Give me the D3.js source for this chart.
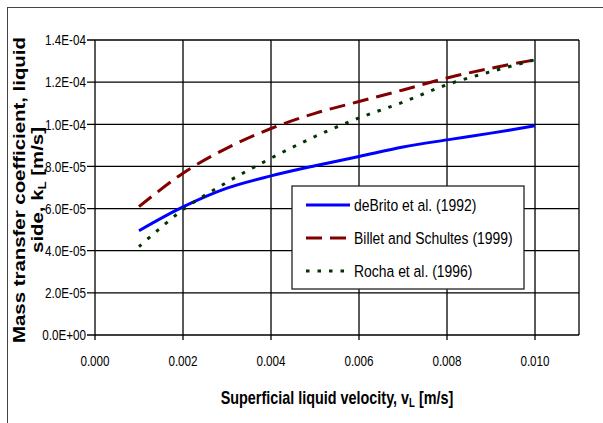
<!DOCTYPE html>
<html>
<head>
<meta charset="utf-8">
<script src="https://cdn.jsdelivr.net/npm/d3@7"></script>
<style>
  body { margin: 0; background: #fff; }
  svg text { fill: #000; font-family: "Liberation Sans", Arial, sans-serif; }
  .tick-label { font-size: 15px; }
  .legend-label { font-size: 17px; }
  .x-title { font-size: 18px; font-weight: bold; }
  .y-title { font-size: 17px; font-weight: bold; }
</style>
</head>
<body>
<div id="chart"></div>
<script>
// Valores
const velocities = [0.001, 0.002, 0.003, 0.004, 0.005, 0.006, 0.007, 0.008, 0.009, 0.010];
const deBrito = [4.95e-5, 6.08e-5, 6.97e-5, 7.55e-5, 8.03e-5, 8.47e-5, 8.92e-5, 9.26e-5, 9.58e-5, 9.93e-5];
const billet = [6.09e-5, 7.68e-5, 8.87e-5, 9.80e-5, 1.052e-4, 1.108e-4, 1.163e-4, 1.220e-4, 1.266e-4, 1.306e-4];
const rocha = [4.19e-5, 5.95e-5, 7.25e-5, 8.39e-5, 9.42e-5, 1.030e-4, 1.105e-4, 1.188e-4, 1.250e-4, 1.306e-4];
const seriesNames = ["deBrito et al. (1992)", "Billet and Schultes (1999)", "Rocha et al. (1996)"];
const xTicks = [0, 0.002, 0.004, 0.006, 0.008, 0.010];
const yTicks = [0, 2e-5, 4e-5, 6e-5, 8e-5, 1e-4, 1.2e-4, 1.4e-4];

const series = [
    { name: seriesNames[0], values: deBrito, color: "#0000ff", dash: null },
    { name: seriesNames[1], values: billet, color: "#800000", dash: "16,8" },
    { name: seriesNames[2], values: rocha, color: "#003300", dash: "3.5,8" }
];

const W = 603, H = 423;
const margin = { top: 40, right: 24, bottom: 88, left: 95 };
const width = W - margin.left - margin.right;
const height = H - margin.top - margin.bottom;
const squeeze = 0.8; // o gráfico original está achatado na horizontal

const svg = d3.select("#chart").append("svg")
    .attr("width", W)
    .attr("height", H);

// moldura externa
svg.append("rect")
    .attr("x", 7.5).attr("y", 7.5)
    .attr("width", W + 20).attr("height", H + 20)
    .attr("fill", "none")
    .attr("stroke", "#444")
    .attr("stroke-width", 1);

const g = svg.append("g")
    .attr("transform", `translate(${margin.left},${margin.top})`);

const x = d3.scaleLinear().domain([0, 0.011]).range([0, width]);
const y = d3.scaleLinear().domain([0, 1.4e-4]).range([height, 0]);

// grade
g.append("g")
    .selectAll("line")
    .data(yTicks)
    .enter().append("line")
    .attr("x1", -8).attr("x2", width)
    .attr("y1", d => y(d)).attr("y2", d => y(d))
    .attr("stroke", "#000").attr("stroke-width", 1.3);

g.append("g")
    .selectAll("line")
    .data(xTicks.concat([0.011]))
    .enter().append("line")
    .attr("x1", d => x(d)).attr("x2", d => x(d))
    .attr("y1", 0).attr("y2", d => d === 0.011 ? height : height + 5)
    .attr("stroke", "#000").attr("stroke-width", 1.3);

// rótulos dos eixos
function sci(d) {
    if (d === 0) return "0.0E+00";
    const [m, e] = d3.format(".1e")(d).split("e");
    return m + "E-" + String(-e).padStart(2, "0");
}

g.append("g")
    .selectAll("text")
    .data(yTicks)
    .enter().append("text")
    .attr("class", "tick-label")
    .attr("transform", d => `translate(-9,${y(d) + 5.3}) scale(0.78,1)`)
    .attr("text-anchor", "end")
    .text(sci);

g.append("g")
    .selectAll("text")
    .data(xTicks)
    .enter().append("text")
    .attr("class", "tick-label")
    .attr("transform", d => `translate(${x(d)},${height + 30.5}) scale(0.78,1)`)
    .attr("text-anchor", "middle")
    .text(d => d3.format(".3f")(d));

// linhas
const line = d3.line()
    .x((d, i) => x(velocities[i]))
    .y(d => y(d))
    .curve(d3.curveCatmullRom);

series.forEach(s => {
    g.append("path")
        .datum(s.values)
        .attr("d", line)
        .attr("fill", "none")
        .attr("stroke", s.color)
        .attr("stroke-width", 3)
        .attr("stroke-dasharray", s.dash);
});

// títulos
svg.append("text")
    .attr("class", "x-title")
    .attr("transform", `translate(${margin.left + width / 2},404) scale(${squeeze},1)`)
    .attr("text-anchor", "middle")
    .html('Superficial liquid velocity, v<tspan font-size="12px" dy="3">L</tspan><tspan dy="-3"> [m/s]</tspan>');

const yt = svg.append("text")
    .attr("class", "y-title")
    .attr("transform", "translate(0,190) rotate(-90) scale(1.2,1)")
    .attr("text-anchor", "middle");
yt.append("tspan").attr("x", 0).attr("y", 25).text("Mass transfer coefficient, liquid");
yt.append("tspan").attr("x", 0).attr("y", 43)
    .html('side, k<tspan font-size="11px" dy="3">L</tspan><tspan dy="-3"> [m/s]</tspan>');

// legenda
const legend = svg.append("g").attr("transform", "translate(292,186)");
legend.append("rect")
    .attr("width", 232).attr("height", 103)
    .attr("fill", "#fff")
    .attr("stroke", "#222").attr("stroke-width", 1.3);

series.forEach((s, i) => {
    const yy = 19 + i * 33;
    legend.append("line")
        .attr("x1", 14).attr("x2", 58)
        .attr("y1", yy).attr("y2", yy)
        .attr("stroke", s.color)
        .attr("stroke-width", 3)
        .attr("stroke-dasharray", s.dash);
    legend.append("text")
        .attr("class", "legend-label")
        .attr("transform", `translate(62,${yy + 6}) scale(0.82,1)`)
        .text(s.name);
});
</script>
</body>
</html>
